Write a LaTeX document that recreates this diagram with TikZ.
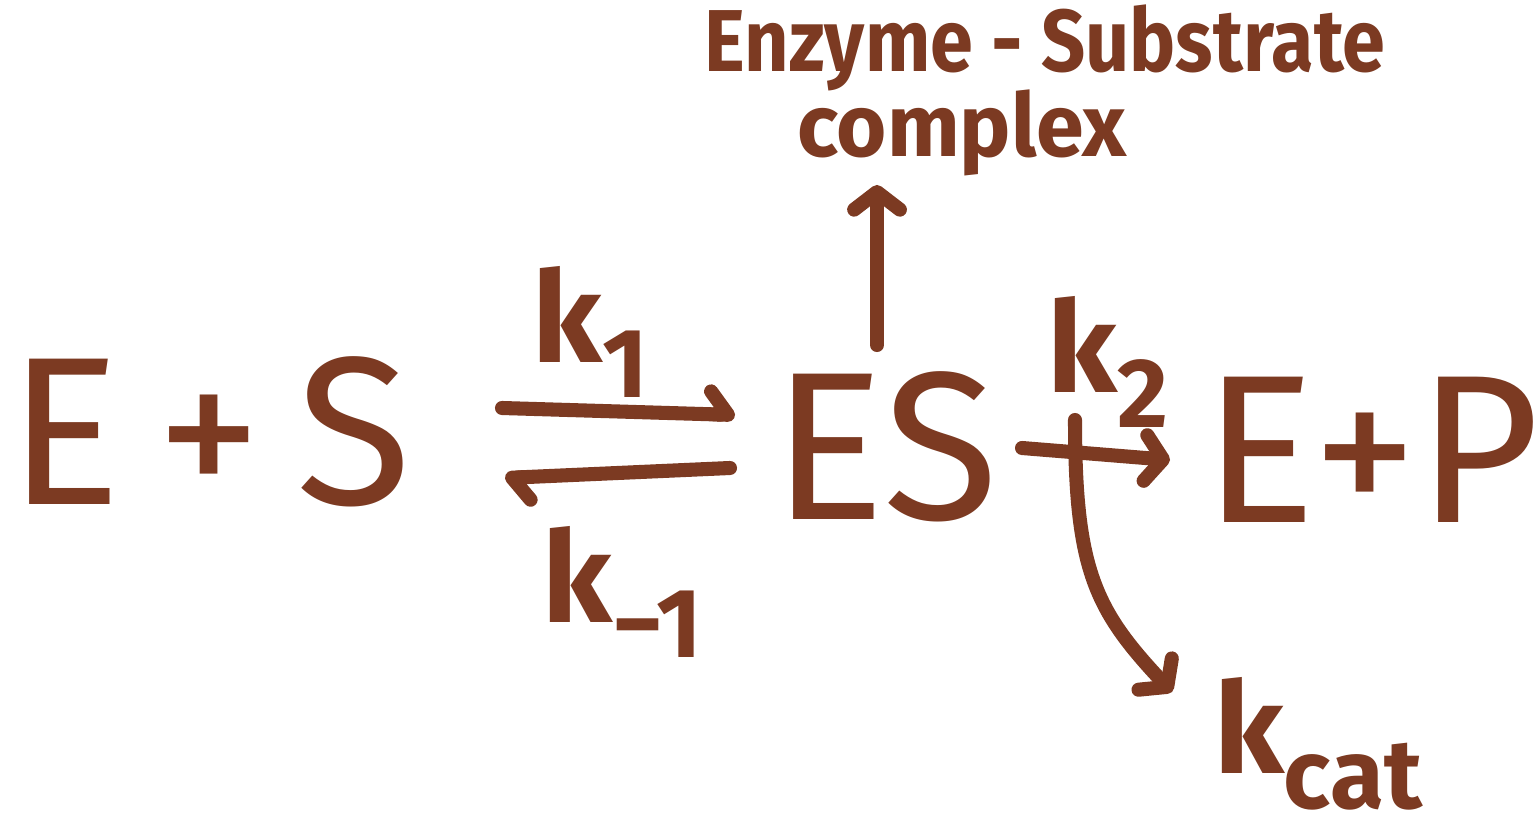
\documentclass[tikz,border=0pt]{standalone}
\usepackage{fontspec}
\usepackage{graphicx}
\setmainfont{Fira Sans}
\usetikzlibrary{arrows.meta}
\definecolor{ink}{RGB}{124,58,34}
\newcommand{\subl}[1]{\raisebox{-0.28em}{\fontsize{28}{28}\selectfont #1}}
\tikzset{
  pen/.style={draw=ink, line width=4pt, line cap=round, line join=round},
  barb/.style={-{Straight Barb[length=5pt,width=13pt,line width=4pt,round]}},
  halfbarb/.style={-{Straight Barb[harpoon,length=5pt,width=13pt,line width=4pt,round]}},
  big/.style={text=ink, inner sep=0pt, font=\fontsize{60}{60}\selectfont},
  lab/.style={text=ink, inner sep=0pt, font=\bfseries\fontsize{36}{36}\selectfont},
  note/.style={text=ink, inner sep=0pt, font=\bfseries\fontsize{25}{25}\selectfont}
}
\begin{document}
\begin{tikzpicture}[x=0.01cm,y=-0.01cm]
\useasboundingbox (0,0) rectangle (1537,834);
\fill[white] (0,0) rectangle (1537,834);
\node[big] (ES0) at (210,432) {E\,+\,S};
\node[big] (ES) at (885,447) {ES};
\node[big] (EP) at (1372,450) {E+P};
\node[lab] (k1) at (590,332) {k\subl{1}};
\node[lab] (km1) at (622,592) {k\subl{−1}};
\node[lab] (k2) at (1108,362) {k\subl{2}};
\node[lab] (kcat) at (1318,744) {k\subl{cat}};
\node[note] (t1) at (1045,48) {\scalebox{0.88}[1]{Enzyme - Substrate}};
\node[note] (t2) at (962,133) {\scalebox{0.98}[1]{complex}};
\coordinate (a1) at (502,408);
\coordinate (a2) at (735,415);
\coordinate (b1) at (730,468);
\coordinate (b2) at (505,478);
\coordinate (c1) at (1022,448);
\coordinate (c2) at (1170,460);
\coordinate (u1) at (877,345);
\coordinate (u2) at (877,185);
\coordinate (d1) at (1075,420);
\coordinate (d2) at (1172,692);
\draw[pen,halfbarb] (a1) -- (a2);
\draw[pen,halfbarb] (b1) -- (b2);
\draw[pen,barb] (c1) -- (c2);
\draw[pen,barb] (u1) -- (u2);
\draw[pen,barb] (d1) .. controls (1075,570) and (1095,610) .. (d2);
\end{tikzpicture}
\end{document}
